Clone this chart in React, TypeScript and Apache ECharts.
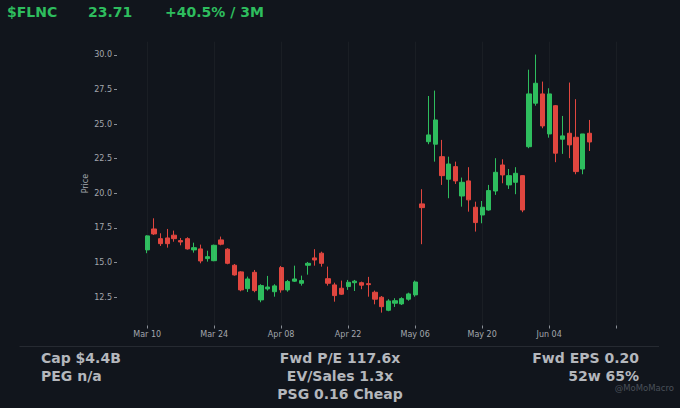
import React, { useEffect, useRef } from "react";
import * as echarts from "echarts";

// Trading-day labels (as shown on the axis)
const dates = [
  "Mar 10","Mar 11","Mar 12","Mar 13","Mar 14","Mar 17","Mar 18","Mar 19","Mar 20","Mar 21",
  "Mar 24","Mar 25","Mar 26","Mar 27","Mar 31","Apr 01","Apr 02","Apr 03","Apr 04","Apr 07",
  "Apr 08","Apr 09","Apr 10","Apr 11","Apr 14","Apr 15","Apr 16","Apr 17","Apr 18","Apr 21",
  "Apr 22","Apr 23","Apr 24","Apr 25","Apr 28","Apr 29","Apr 30","May 01","May 02","May 05",
  "May 06","May 07","May 08","May 09","May 12","May 13","May 14","May 15","May 16","May 19",
  "May 20","May 21","May 22","May 23","May 27","May 28","May 29","May 30","Jun 02","Jun 03",
  "Jun 04","Jun 05","Jun 06","Jun 09","Jun 10","Jun 11","Jun 12",
];

const opens = [
  15.92, 17.43, 16.73, 16.78, 16.98, 16.59, 16.73, 15.92, 15.99, 15.29,
  15.14, 16.64, 15.97, 14.81, 14.33, 13.12, 14.30, 12.31, 13.10, 12.90,
  14.64, 13.03, 13.66, 13.51, 14.81, 15.34, 15.68, 13.84, 13.39, 13.15,
  13.27, 13.55, 13.55, 13.48, 12.86, 12.50, 11.56, 12.07, 12.02, 12.36,
  12.67, 19.24, 23.73, 23.55, 22.65, 21.02, 21.93, 19.81, 20.90, 19.00,
  18.44, 18.80, 20.17, 22.05, 20.61, 20.80, 21.28, 23.37, 26.51, 27.18,
  24.29, 26.33, 23.91, 24.34, 24.05, 21.76, 24.34,
];
const closes = [
  16.93, 17.07, 16.37, 16.37, 16.73, 16.49, 15.99, 16.08, 15.12, 15.43,
  16.25, 16.33, 14.95, 14.11, 13.03, 13.82, 12.98, 13.34, 13.24, 13.32,
  13.03, 13.63, 13.82, 13.70, 14.95, 15.19, 14.95, 13.51, 12.62, 12.72,
  13.58, 13.66, 13.37, 13.41, 12.36, 11.82, 12.23, 12.25, 12.40, 12.74,
  13.60, 18.97, 24.22, 25.30, 21.28, 22.12, 20.90, 20.80, 19.53, 17.89,
  19.00, 20.20, 21.52, 21.33, 21.28, 21.45, 18.80, 27.18, 27.95, 24.87,
  27.18, 22.90, 24.15, 23.50, 21.57, 24.29, 23.71,
];
const lows = [
  15.68, 17.00, 16.20, 16.08, 16.51, 16.25, 15.94, 15.72, 14.95, 15.07,
  15.10, 16.25, 14.88, 14.06, 12.93, 12.88, 12.86, 12.14, 12.98, 12.54,
  12.83, 12.90, 13.60, 13.34, 14.13, 14.78, 14.71, 13.34, 12.18, 12.67,
  13.03, 12.95, 13.08, 12.54, 11.99, 11.39, 11.49, 11.80, 11.94, 12.25,
  12.54, 16.33, 23.55, 22.29, 20.61, 19.65, 20.68, 19.04, 18.68, 17.24,
  17.84, 18.75, 19.89, 20.73, 20.32, 19.94, 18.64, 23.26, 26.33, 24.70,
  24.02, 22.25, 22.85, 22.54, 21.38, 21.38, 23.06,
];
const highs = [
  16.98, 18.20, 17.12, 17.43, 17.31, 16.78, 16.83, 16.44, 16.30, 15.86,
  16.30, 16.88, 16.04, 14.90, 14.38, 13.99, 14.47, 13.44, 14.04, 13.44,
  14.76, 13.75, 14.78, 14.06, 15.05, 15.97, 15.79, 14.71, 13.55, 13.70,
  13.75, 13.75, 13.63, 13.97, 12.98, 12.59, 12.36, 12.43, 12.50, 12.83,
  13.70, 20.30, 27.03, 27.42, 23.86, 22.65, 22.29, 21.14, 21.89, 19.40,
  19.45, 20.61, 22.54, 22.46, 21.76, 21.89, 21.30, 28.93, 30.02, 28.07,
  27.59, 26.38, 25.59, 28.00, 26.80, 24.29, 25.30,
];

const yTicks = [12.5, 15.0, 17.5, 20.0, 22.5, 25.0, 27.5, 30.0];
const labelStep = 10;

const ticker = "$FLNC";
const lastPrice = "23.71";
const change = "+40.5% / 3M";
const leftStats = ["Cap $4.4B", "PEG n/a"];
const midStats = ["Fwd P/E 117.6x", "EV/Sales 1.3x", "PSG 0.16 Cheap"];
const rightStats = ["Fwd EPS 0.20", "52w 65%"];
const watermark = "@MoMoMacro";

const PAD_BEFORE = 4;
const PAD_AFTER = 4;
const FONT = "DejaVu Sans";
const GREEN = "#2ebd5e";
const RED = "#e0463f";
const TXT = "#a3a7ad";
const STAT = "#b4b7bc";

export default function App() {
  const ref = useRef<HTMLDivElement>(null);
  useEffect(() => {
    if (!ref.current) return;
    const chart = echarts.init(ref.current, null, { renderer: "svg" });
    const pad = (n: number) => Array.from({ length: n }, () => "");
    const categories = [...pad(PAD_BEFORE), ...dates, ...pad(PAD_AFTER)];
    const candles: any[] = [
      ...Array.from({ length: PAD_BEFORE }, () => "-"),
      ...dates.map((_, i) => [opens[i], closes[i], lows[i], highs[i]]),
    ];
    const isTick = (idx: number) => idx >= PAD_BEFORE && (idx - PAD_BEFORE) % labelStep === 0;
    const isLabel = (idx: number) => isTick(idx) && idx < PAD_BEFORE + dates.length;
    const gridIdx = categories.map((_, i) => i).filter(isTick);

    const statText = (text: string, x: number, y: number, align: string) => ({
      type: "text",
      x,
      y,
      style: {
        text,
        fill: STAT,
        font: `bold 14px "${FONT}"`,
        textAlign: align,
        textVerticalAlign: "middle",
      },
    });

    chart.setOption({
      animation: false,
      backgroundColor: "#11151c",
      grid: { left: 117, top: 41.7, width: 502.5, height: 283.8 },
      xAxis: {
        type: "category",
        data: categories,
        boundaryGap: true,
        axisLine: { show: false },
        axisTick: {
          show: true,
          alignWithLabel: true,
          length: 3,
          interval: (idx: number) => isTick(idx),
          lineStyle: { color: "#8a8f96", width: 1 },
        },
        axisLabel: {
          interval: (idx: number) => isLabel(idx),
          color: TXT,
          fontSize: 8,
          fontFamily: FONT,
          margin: 5,
        },
        splitLine: { show: false },
      },
      yAxis: {
        type: "value",
        min: 10.46,
        max: 30.95,
        name: "Price",
        nameLocation: "middle",
        nameGap: 28,
        nameMoveOverlap: false,
        nameTextStyle: { color: TXT, fontSize: 8, fontFamily: FONT },
        axisLine: { show: false },
        axisTick: {
          show: true,
          length: 3,
          customValues: yTicks,
          lineStyle: { color: "#8a8f96", width: 1 },
        },
        axisLabel: {
          customValues: yTicks,
          formatter: (v: number) => v.toFixed(1),
          color: TXT,
          fontSize: 8,
          fontFamily: FONT,
          margin: 5,
        },
        splitLine: { show: false },
      },
      series: [
        {
          type: "candlestick",
          data: candles,
          barWidth: 4.8,
          itemStyle: {
            color: GREEN,
            color0: RED,
            borderColor: GREEN,
            borderColor0: RED,
            borderWidth: 1,
          },
          markLine: {
            silent: true,
            symbol: ["none", "none"],
            label: { show: false },
            lineStyle: { color: "rgba(255,255,255,0.04)", type: "solid", width: 1 },
            data: gridIdx.map((i) => ({ xAxis: i })),
          },
          z: 3,
        },
      ],
      graphic: [
        {
          type: "text",
          x: 7,
          y: 12,
          style: { text: ticker, fill: GREEN, font: `bold 14px "${FONT}"`, textVerticalAlign: "middle" },
        },
        {
          type: "text",
          x: 88,
          y: 12,
          style: { text: lastPrice, fill: GREEN, font: `bold 14px "${FONT}"`, textVerticalAlign: "middle" },
        },
        {
          type: "text",
          x: 165,
          y: 12,
          style: { text: change, fill: GREEN, font: `bold 14px "${FONT}"`, textVerticalAlign: "middle" },
        },
        {
          type: "line",
          shape: { x1: 19.5, y1: 346.5, x2: 659, y2: 346.5 },
          style: { stroke: "#262a31", lineWidth: 1 },
        },
        statText(leftStats[0], 41, 358, "left"),
        statText(leftStats[1], 41, 376, "left"),
        statText(midStats[0], 340, 358, "center"),
        statText(midStats[1], 340, 376, "center"),
        statText(midStats[2], 340, 394, "center"),
        statText(rightStats[0], 639, 358, "right"),
        statText(rightStats[1], 639, 376, "right"),
        {
          type: "text",
          x: 674,
          y: 388,
          style: {
            text: watermark,
            fill: "#4a5059",
            font: `8.5px "${FONT}"`,
            textAlign: "right",
            textVerticalAlign: "middle",
          },
        },
      ],
    });
    return () => chart.dispose();
  }, []);
  return (
    <div
      ref={ref}
      style={{ position: "absolute", left: 0, top: 0, width: 680, height: 408 }}
    />
  );
}
